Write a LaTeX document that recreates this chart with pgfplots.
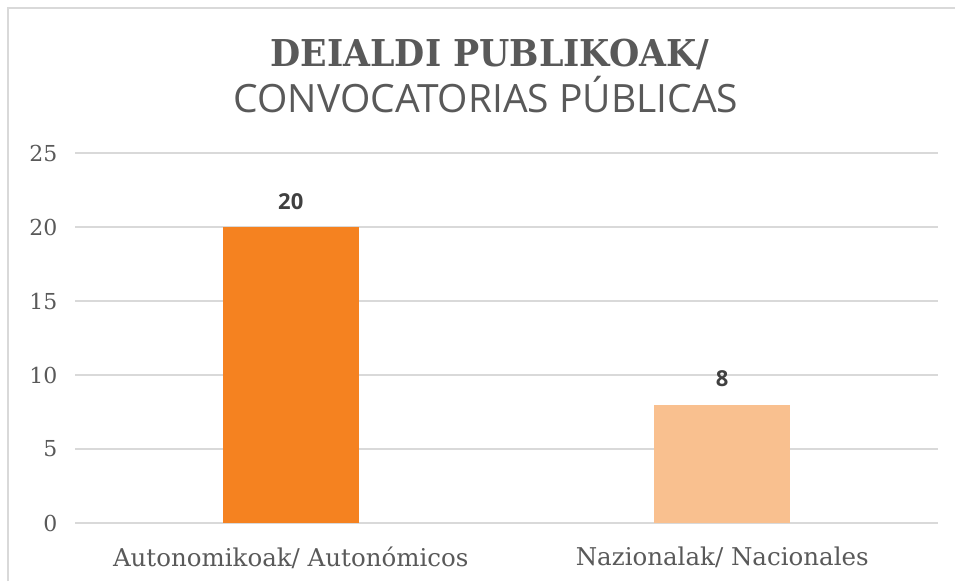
\documentclass[border=0pt]{standalone}
\usepackage{fontspec}
\setmainfont{DejaVu Serif}
\newfontfamily\titlefont{DejaVu Serif}[FakeStretch=0.94]
\newfontfamily\subfont{Open Sans}[FakeStretch=1.0]
\newfontfamily\numfont{Open Sans}
\usepackage{pgfplots}
\pgfplotsset{compat=1.18}
\definecolor{txt}{HTML}{595959}
\definecolor{gridc}{HTML}{D9D9D9}
\definecolor{barA}{HTML}{F58220}
\definecolor{barB}{HTML}{F9C08F}
\begin{document}
\begin{tikzpicture}[x=1pt,y=1pt]
\useasboundingbox (0,0) rectangle (955,581);
\draw[gridc, line width=1.5pt] (8,0) -- (8,573) -- (955,573);
\node[anchor=base, text=txt, font=\titlefont\bfseries\fontsize{37}{40}\selectfont] at (490,514) {DEIALDI PUBLIKOAK/};
\node[anchor=base, text=txt, font=\subfont\fontsize{39}{44}\selectfont] at (486,468) {CONVOCATORIAS PÚBLICAS};
\begin{axis}[
  at={(75pt,58pt)}, anchor=south west, scale only axis,
  width=863pt, height=370pt,
  xmin=-0.5, xmax=1.5, ymin=0, ymax=25,
  ytick={0,5,10,15,20,25},
  xtick={0,1},
  xticklabels={Autonomikoak/ Autonómicos, Nazionalak/ Nacionales},
  ymajorgrids, grid style={gridc, line width=1.5pt},
  axis line style={draw=none},
  major tick length=0pt,
  tick label style={text=txt},
  /pgf/number format/assume math mode=true,
  yticklabel style={font=\fontsize{22}{24}\selectfont, xshift=-14pt},
  xticklabel style={font=\fontsize{24.5}{26}\selectfont, yshift=-20pt},
  ybar, bar width=136pt,
  nodes near coords,
  nodes near coords style={font=\numfont\bfseries\fontsize{22}{24}\selectfont, text=black!75, yshift=14pt},
]
\addplot[fill=barA, draw=none, bar shift=0pt] coordinates {(0,20)};
\addplot[fill=barB, draw=none, bar shift=0pt] coordinates {(1,8)};
\end{axis}
\end{tikzpicture}
\end{document}
